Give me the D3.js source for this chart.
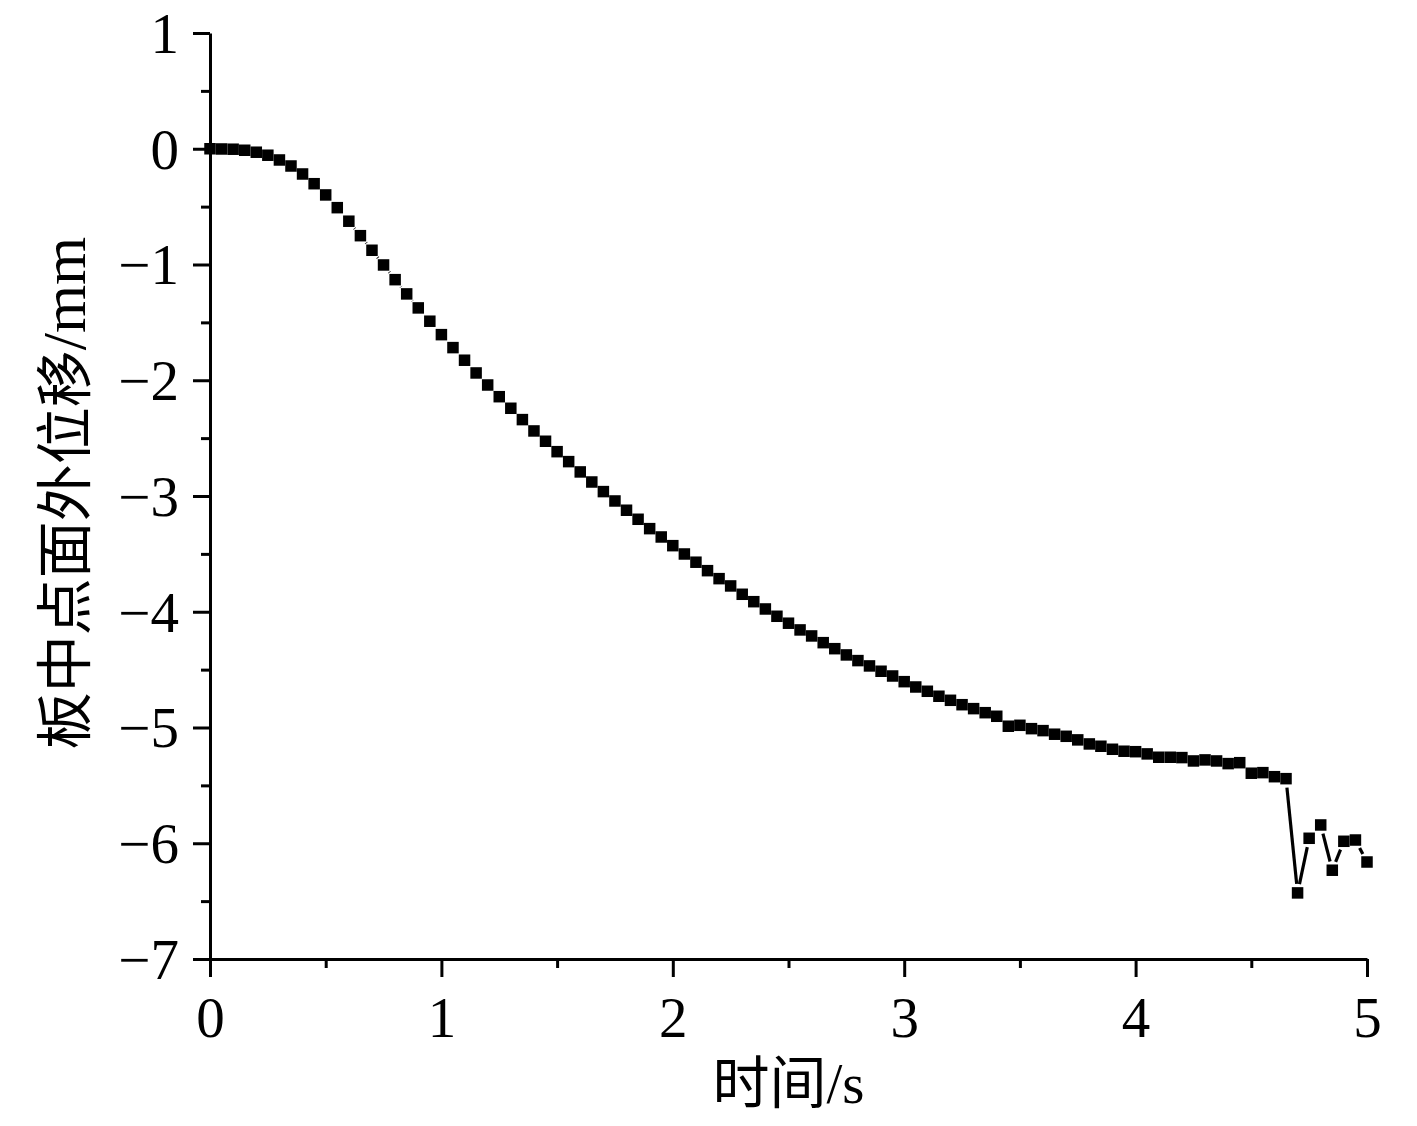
<!DOCTYPE html>
<html>
<head>
<meta charset="utf-8">
<script src="https://cdn.jsdelivr.net/npm/d3@7"></script>
<style>
  html, body { margin: 0; padding: 0; background: #fff; }
  svg { display: block; }
  text { font-family: "Liberation Serif", "Noto Sans CJK SC", serif; fill: #000; }
</style>
</head>
<body>
<svg id="chart" width="1417" height="1126"></svg>
<script>
// ---- data ----
const times = [
  0.00, 0.05, 0.10, 0.15, 0.20, 0.25, 0.30, 0.35, 0.40, 0.45,
  0.50, 0.55, 0.60, 0.65, 0.70, 0.75, 0.80, 0.85, 0.90, 0.95,
  1.00, 1.05, 1.10, 1.15, 1.20, 1.25, 1.30, 1.35, 1.40, 1.45,
  1.50, 1.55, 1.60, 1.65, 1.70, 1.75, 1.80, 1.85, 1.90, 1.95,
  2.00, 2.05, 2.10, 2.15, 2.20, 2.25, 2.30, 2.35, 2.40, 2.45,
  2.50, 2.55, 2.60, 2.65, 2.70, 2.75, 2.80, 2.85, 2.90, 2.95,
  3.00, 3.05, 3.10, 3.15, 3.20, 3.25, 3.30, 3.35, 3.40, 3.45,
  3.50, 3.55, 3.60, 3.65, 3.70, 3.75, 3.80, 3.85, 3.90, 3.95,
  4.00, 4.05, 4.10, 4.15, 4.20, 4.25, 4.30, 4.35, 4.40, 4.45,
  4.50, 4.55, 4.60, 4.65, 4.70, 4.75, 4.80, 4.85, 4.90, 4.95,
  5.00
];
const displacement = [
  0.000, -0.002, -0.004, -0.013, -0.030, -0.056, -0.097, -0.149, -0.218, -0.302,
  -0.399, -0.509, -0.626, -0.751, -0.877, -1.004, -1.131, -1.254, -1.375, -1.490,
  -1.606, -1.718, -1.827, -1.937, -2.041, -2.142, -2.242, -2.340, -2.438, -2.527,
  -2.617, -2.703, -2.792, -2.879, -2.962, -3.043, -3.123, -3.201, -3.282, -3.354,
  -3.429, -3.501, -3.572, -3.645, -3.714, -3.777, -3.849, -3.913, -3.976, -4.039,
  -4.099, -4.157, -4.209, -4.267, -4.319, -4.373, -4.422, -4.468, -4.514, -4.555,
  -4.604, -4.650, -4.687, -4.730, -4.765, -4.803, -4.837, -4.872, -4.903, -4.989,
  -4.981, -5.010, -5.027, -5.058, -5.076, -5.107, -5.142, -5.162, -5.188, -5.205,
  -5.209, -5.228, -5.257, -5.257, -5.260, -5.289, -5.280, -5.289, -5.312, -5.304,
  -5.395, -5.390, -5.425, -5.442, -6.429, -5.957, -5.842, -6.233, -5.983, -5.972,
  -6.162
];
const xTicks = [0, 1, 2, 3, 4, 5];
const xMinorTicks = [0.5, 1.5, 2.5, 3.5, 4.5];
const yTicks = [1, 0, -1, -2, -3, -4, -5, -6, -7];
const yMinorTicks = [0.5, -0.5, -1.5, -2.5, -3.5, -4.5, -5.5, -6.5];
const xLabel = "时间/s";
const yLabel = "板中点面外位移/mm";

// ---- layout ----
const svg = d3.select("#chart");
const plotLeft = 210, plotRight = 1367, plotTop = 33, plotBottom = 959;
const x = d3.scaleLinear().domain([0, 5]).range([plotLeft, plotRight]);
const y = d3.scaleLinear().domain([-7, 1]).range([plotBottom, plotTop]);
const fontSize = 57;

// minor ticks
svg.append("g")
  .attr("transform", `translate(0,${plotBottom})`)
  .call(d3.axisBottom(x).tickValues(xMinorTicks).tickSize(9).tickFormat(""))
  .call(g => g.select(".domain").remove())
  .call(g => g.selectAll("line").attr("stroke-width", 3));
svg.append("g")
  .attr("transform", `translate(${plotLeft},0)`)
  .call(d3.axisLeft(y).tickValues(yMinorTicks).tickSize(9).tickFormat(""))
  .call(g => g.select(".domain").remove())
  .call(g => g.selectAll("line").attr("stroke-width", 3));

// major axes
const xAxis = svg.append("g")
  .attr("transform", `translate(0,${plotBottom})`)
  .call(d3.axisBottom(x).tickValues(xTicks).tickSize(18).tickSizeOuter(0).tickPadding(20).tickFormat(d3.format("d")));
const yAxis = svg.append("g")
  .attr("transform", `translate(${plotLeft},0)`)
  .call(d3.axisLeft(y).tickValues(yTicks).tickSize(17).tickSizeOuter(0).tickPadding(14).tickFormat(d3.format("d")));

[xAxis, yAxis].forEach(g => {
  g.select(".domain").attr("stroke-width", 3).attr("stroke", "#000");
  g.selectAll(".tick line").attr("stroke-width", 3).attr("stroke", "#000");
  g.selectAll(".tick text")
    .attr("font-size", fontSize)
    .attr("font-family", "Liberation Serif, serif")
    .attr("fill", "#000");
});
xAxis.selectAll(".tick text").attr("dy", "0.71em");
yAxis.selectAll(".tick text").attr("dy", "0.34em");

// connecting line segments with gap to symbols
const pts = times.map((t, i) => [x(t), y(displacement[i])]);
const gap = 9;
const segs = [];
for (let i = 0; i < pts.length - 1; i++) {
  const [x1, y1] = pts[i], [x2, y2] = pts[i + 1];
  const dx = x2 - x1, dy = y2 - y1, len = Math.hypot(dx, dy);
  if (len > 2 * gap) {
    const ux = dx / len, uy = dy / len;
    segs.push([x1 + ux * gap, y1 + uy * gap, x2 - ux * gap, y2 - uy * gap]);
  }
}
svg.append("g").selectAll("line").data(segs).join("line")
  .attr("x1", d => d[0]).attr("y1", d => d[1])
  .attr("x2", d => d[2]).attr("y2", d => d[3])
  .attr("stroke", "#000").attr("stroke-width", 3.2);

// square markers
const ms = 11.5;
svg.append("g").selectAll("rect").data(times).join("rect")
  .attr("x", (t) => x(t) - ms / 2)
  .attr("y", (t, i) => y(displacement[i]) - ms / 2)
  .attr("width", ms).attr("height", ms)
  .attr("fill", "#000");

// axis titles
svg.append("text")
  .attr("x", (plotLeft + plotRight) / 2)
  .attr("y", 1103)
  .attr("text-anchor", "middle")
  .attr("font-size", fontSize)
  .text(xLabel);
const yl = svg.append("text")
  .attr("transform", `translate(85,${(plotTop + plotBottom) / 2 - 3}) rotate(-90)`)
  .attr("text-anchor", "middle")
  .attr("font-size", fontSize);
yl.append("tspan").text(yLabel.slice(0, 7));
yl.append("tspan").attr("font-size", 62).text(yLabel.slice(7));
</script>
</body>
</html>
